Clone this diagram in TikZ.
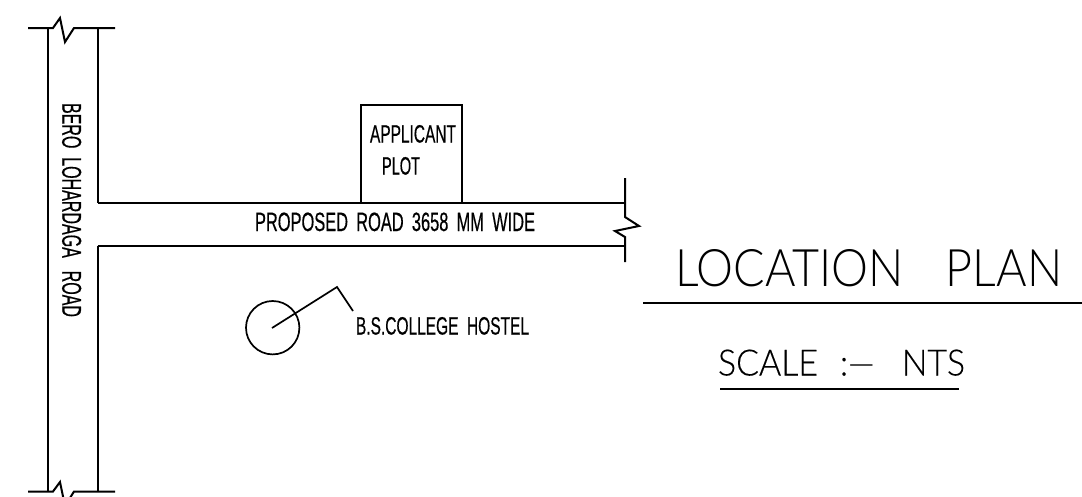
\documentclass[tikz,border=0pt]{standalone}
\usepackage{fontspec}
\usepackage{graphicx}
\setmainfont{Liberation Sans}
\newfontfamily\thinfont{Lato Light}
\newfontfamily\midfont[FakeBold=0.2]{Lato Light}
\newfontfamily\cadfont[FakeBold=0.6]{Liberation Sans}
\newcommand{\fitted}[3]{\resizebox{#1pt}{#2pt}{#3}}
\tikzset{
  x=1pt,y=-1pt,
  cadline/.style={line width=2pt,line join=miter,black},
  thinline/.style={line width=1.7pt,black},
  lbl/.style={inner sep=0pt,outer sep=0pt,anchor=north west,text=black,font=\cadfont}
}
\begin{document}
\begin{tikzpicture}
\useasboundingbox (0,0) rectangle (1082,496);
% left road
\draw[cadline] (28,28) -- (53,28) -- (60,18) -- (65,42) -- (74,28) -- (115,28);
\draw[cadline] (28,491.5) -- (53,491.5) -- (60,482) -- (65,506) -- (74,491.5) -- (115,491.5);
\draw[cadline] (48,28) -- (48,491.5);
\draw[cadline] (97.5,28) -- (97.5,203);
\draw[cadline] (97.5,246) -- (97.5,491.5);
% proposed road
\draw[cadline] (97.5,203) -- (625,203);
\draw[cadline] (97.5,246) -- (625,246);
\draw[cadline] (625,178) -- (625,217) -- (639,226) -- (615,231) -- (625,237) -- (625,262);
% plot
\draw[cadline] (361,203) -- (361,105) -- (461.5,105) -- (461.5,203);
% hostel
\draw[thinline] (272.7,327.7) circle[radius=26.7];
\draw[thinline] (272,328) -- (337,287) -- (353,311);
% title rules
\draw[cadline] (643,303) -- (1082,303);
\draw[cadline] (720,388.5) -- (959,388.5);
% labels
\node[lbl] (bero) at (62,103) {\rotatebox{-90}{\fitted{214}{19}{BERO\hspace{0.55em}LOHARDAGA\hspace{0.8em}ROAD}}};
\node[lbl] (applicant) at (370,125) {\fitted{86}{17.5}{APPLICANT}};
\node[lbl] (plot) at (382,157) {\fitted{38}{17.5}{PLOT}};
\node[lbl] (road) at (255,212.5) {\fitted{280}{18.5}{PROPOSED\hspace{0.5em}ROAD\hspace{0.5em}3658\hspace{0.5em}MM\hspace{0.5em}WIDE}};
\node[lbl] (hostel) at (356,317) {\fitted{173}{17.5}{B.S.COLLEGE\hspace{0.55em}HOSTEL}};
\node[lbl] (title) at (675,249.5) {\fitted{387}{37}{\thinfont LOCATION\hspace{0.9em}PLAN}};
\node[lbl] (scale) at (718,349.5) {\fitted{247}{26}{\midfont SCALE\hspace{0.65em}:—\hspace{0.8em}NTS}};
\end{tikzpicture}
\end{document}
